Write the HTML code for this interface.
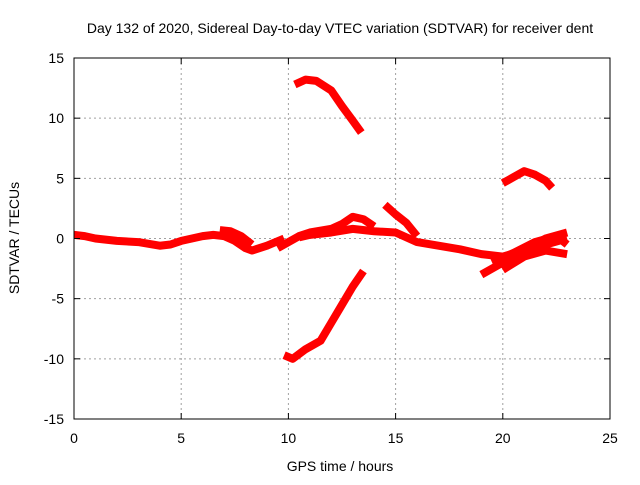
<!DOCTYPE html>
<html><head><meta charset="utf-8"><style>
body{margin:0;background:#fff}
svg text{font-family:"Liberation Sans",sans-serif;font-size:14px;fill:#000}
</style></head><body>
<svg id="chart" width="640" height="480">
<text x="340" y="33" text-anchor="middle">Day 132 of 2020, Sidereal Day-to-day VTEC variation (SDTVAR) for receiver dent</text>
<text x="340" y="471" text-anchor="middle">GPS time / hours</text>
<text transform="translate(19,238) rotate(-90)" text-anchor="middle">SDTVAR / TECUs</text>
<g id="grid"></g><g id="series"></g><g id="axes"></g>
</svg>
<script>
const xTicks=[0,5,10,15,20,25];
const yTicks=[-15,-10,-5,0,5,10,15];
const seriesMain=[[0,0.3],[0.5,0.2],[1,0],[2,-0.2],[3,-0.3],[4,-0.6],[4.5,-0.5],[5,-0.2],[6,0.2],[6.5,0.3],[7,0.2],[7.5,-0.2],[8,-0.8],[8.3,-1.0],[9,-0.6],[9.8,0]];
const seriesBranch=[[6.8,0.7],[7.3,0.6],[7.8,0.2],[8.3,-0.5]];
const seriesMid=[[9.5,-0.8],[10,-0.3],[10.5,0.2],[11,0.5],[12,0.8],[12.5,1.2],[13,1.8],[13.5,1.6],[14,1.0]];
const seriesLong=[[10.5,0.1],[11,0.3],[12,0.5],[13,0.8],[14,0.6],[15,0.5],[16,-0.3],[17,-0.6],[18,-0.9],[19,-1.3],[20,-1.5],[21,-1.0],[22,-0.5],[23,0]];
const seriesSpike=[[14.5,2.8],[15,2.0],[15.5,1.3],[16,0.2]];
const seriesLateA=[[19,-3],[20,-2],[21,-1],[22,0],[23,0.5]];
const seriesLateB=[[20,-2.6],[21,-1.5],[22,-1],[23,-1.3]];
const seriesLateC=[[19.5,-2],[20.5,-1.2],[21.5,-0.3],[22.5,0.2],[23,-0.5]];
const seriesTop=[[10.3,12.8],[10.8,13.2],[11.3,13.1],[12,12.3],[12.5,11],[13,9.8],[13.4,8.8]];
const seriesBottom=[[9.8,-9.7],[10.2,-10],[10.8,-9.2],[11.5,-8.5],[12,-7],[12.5,-5.5],[13,-4],[13.5,-2.7]];
const seriesRight=[[20,4.6],[20.5,5.1],[21,5.6],[21.5,5.3],[22,4.8],[22.3,4.2]];
const NS="http://www.w3.org/2000/svg";
const L=74,R=610,T=58,B=419;
const xs=v=>L+(v-0)/25*(R-L);
const ys=v=>B-(v+15)/30*(B-T);
const grid=document.getElementById('grid'),axes=document.getElementById('axes'),ser=document.getElementById('series');
function mk(t,a,p){const e=document.createElementNS(NS,t);for(const k in a)e.setAttribute(k,a[k]);p.appendChild(e);return e;}
xTicks.forEach(v=>{
 if(v>0&&v<25){const g=mk('line',{x1:xs(v),x2:xs(v),y1:T,y2:B,stroke:'#a0a0a0','stroke-dasharray':'2,3'},grid);
 
 }
 const t=mk('text',{x:xs(v),y:B+24,'text-anchor':'middle'},axes);t.textContent=v;
 
 
 mk('line',{x1:xs(v),x2:xs(v),y1:B,y2:B-6,stroke:'#000'},axes);
 mk('line',{x1:xs(v),x2:xs(v),y1:T,y2:T+6,stroke:'#000'},axes);
});
yTicks.forEach(v=>{
 if(v>-15&&v<15){const g=mk('line',{x1:L,x2:R,y1:ys(v),y2:ys(v),stroke:'#a0a0a0','stroke-dasharray':'2,3'},grid);
 
 }
 const t=mk('text',{x:L-10,y:ys(v)+5,'text-anchor':'end'},axes);t.textContent=v;
 
 
 mk('line',{x1:L,x2:L+6,y1:ys(v),y2:ys(v),stroke:'#000'},axes);
 mk('line',{x1:R,x2:R-6,y1:ys(v),y2:ys(v),stroke:'#000'},axes);
});
const fr=mk('rect',{x:L,y:T,width:R-L,height:B-T,fill:'none',stroke:'#000'},axes);


[seriesMain,seriesBranch,seriesMid,seriesLong,seriesSpike,seriesLateA,seriesLateB,seriesLateC,seriesTop,seriesBottom,seriesRight].forEach(s=>{
 const p=mk('polyline',{points:s.map(d=>xs(d[0])+','+ys(d[1])).join(' '),fill:'none',stroke:'#ff0000','stroke-width':8,'stroke-linejoin':'round'},ser);
 
 
});
</script>
</body></html>
